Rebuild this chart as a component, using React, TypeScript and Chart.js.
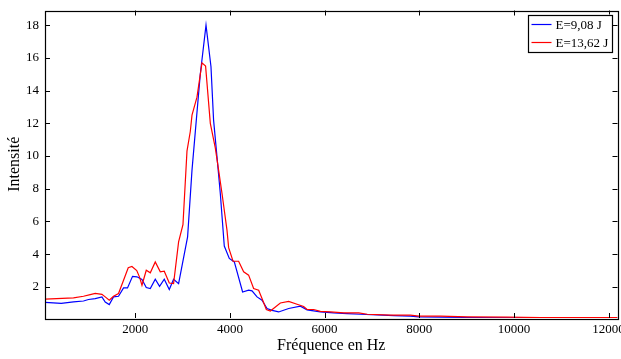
import React, { useEffect, useRef } from "react";
import { Chart, registerables } from "chart.js";

Chart.register(...registerables);

// Frequencies (Hz) and intensities
const freqA = [97, 436, 696, 907, 1013, 1154, 1296, 1366, 1451, 1541, 1647, 1753, 1837, 1943, 2036, 2142, 2233, 2318, 2423, 2514, 2613, 2719, 2810, 2916, 3106, 3199, 3290, 3374, 3495, 3600, 3655, 3727, 3797, 3881, 3987, 4093, 4268, 4395, 4467, 4573, 4678, 4784, 4890, 5029, 5241, 5488, 5630, 5911, 6192, 6475, 6757, 7110, 7461, 7813, 7989, 9145, 10562, 12190];
const valA = [1.05, 1.0, 1.08, 1.14, 1.23, 1.29, 1.39, 1.08, 0.92, 1.39, 1.43, 1.94, 1.94, 2.65, 2.62, 2.45, 1.96, 1.9, 2.47, 2.04, 2.47, 1.84, 2.47, 2.2, 5.06, 9.14, 12.2, 15.0, 18.0, 15.46, 12.2, 9.95, 7.71, 4.5, 3.74, 3.53, 1.69, 1.8, 1.76, 1.39, 1.19, 0.68, 0.57, 0.47, 0.68, 0.82, 0.6, 0.47, 0.41, 0.37, 0.33, 0.29, 0.25, 0.21, 0.17, 0.13, 0.11, 0.11];

const freqB = [97, 696, 907, 1049, 1154, 1296, 1366, 1451, 1541, 1647, 1753, 1852, 1930, 2032, 2091, 2142, 2233, 2318, 2423, 2529, 2613, 2719, 2810, 2916, 3008, 3093, 3163, 3199, 3304, 3410, 3486, 3586, 3691, 3761, 3833, 3938, 3973, 4066, 4184, 4290, 4395, 4501, 4607, 4678, 4769, 4854, 5065, 5241, 5418, 5558, 5630, 5770, 5911, 6123, 6404, 6721, 6899, 7391, 7813, 7989, 8448, 9012, 9858, 10562, 12190];
const valB = [1.25, 1.33, 1.43, 1.53, 1.6, 1.55, 1.39, 1.19, 1.43, 1.6, 2.41, 3.17, 3.25, 3.0, 2.6, 2.1, 3.02, 2.86, 3.53, 2.92, 2.96, 2.24, 2.2, 4.75, 5.8, 10.3, 11.5, 12.5, 13.6, 15.7, 15.5, 12.0, 10.5, 9.14, 7.71, 5.47, 4.4, 3.57, 3.57, 2.92, 2.72, 1.9, 1.8, 1.29, 0.62, 0.53, 1.02, 1.12, 0.94, 0.8, 0.62, 0.62, 0.51, 0.47, 0.41, 0.41, 0.33, 0.27, 0.27, 0.21, 0.21, 0.17, 0.15, 0.13, 0.13];

const labelA = "E=9,08 J";
const labelB = "E=13,62 J";
const xTicks = [2000, 4000, 6000, 8000, 10000, 12000];
const yTicks = [2, 4, 6, 8, 10, 12, 14, 16, 18];

const FONT = "'Liberation Serif', 'Times New Roman', serif";

const framePlugin = {
  id: "frameTicks",
  afterDatasetsDraw(chart: any) {
    const { ctx, chartArea: a, scales } = chart;
    const L = 5;
    ctx.save();
    ctx.strokeStyle = "#000";
    ctx.lineWidth = 1;
    ctx.beginPath();
    for (const v of xTicks) {
      const px = Math.round(scales.x.getPixelForValue(v)) + 0.5;
      ctx.moveTo(px, a.bottom);
      ctx.lineTo(px, a.bottom - L);
      ctx.moveTo(px, a.top);
      ctx.lineTo(px, a.top + L);
    }
    for (const v of yTicks) {
      const py = Math.round(scales.y.getPixelForValue(v)) + 0.5;
      ctx.moveTo(a.left, py);
      ctx.lineTo(a.left + L, py);
      ctx.moveTo(a.right, py);
      ctx.lineTo(a.right - L, py);
    }
    ctx.stroke();
    ctx.lineWidth = 1.2;
    ctx.strokeRect(Math.round(a.left) + 0.5, Math.round(a.top) + 0.5, Math.round(a.right - a.left), Math.round(a.bottom - a.top));
    ctx.restore();
  },
  afterDraw(chart: any) {
    const { ctx, chartArea: a } = chart;
    const bx = a.right - 90;
    const by = a.top + 4;
    const bw = 84;
    const bh = 37;
    ctx.save();
    ctx.fillStyle = "#fff";
    ctx.fillRect(bx, by, bw, bh);
    ctx.strokeStyle = "#000";
    ctx.lineWidth = 1.2;
    ctx.strokeRect(Math.round(bx) + 0.5, Math.round(by) + 0.5, bw, bh);
    ctx.font = "13px " + FONT;
    ctx.textBaseline = "middle";
    ctx.textAlign = "left";
    const ds = chart.data.datasets;
    const order = [0, 1];
    order.forEach((i, k) => {
      const y = by + 10 + k * 18;
      ctx.strokeStyle = ds[i].borderColor;
      ctx.lineWidth = 1.2;
      ctx.beginPath();
      ctx.moveTo(bx + 4, y);
      ctx.lineTo(bx + 24, y);
      ctx.stroke();
      ctx.fillStyle = "#000";
      ctx.fillText(ds[i].label, bx + 28, y + 1);
    });
    ctx.restore();
  },
};

export default function App() {
  const ref = useRef<HTMLCanvasElement | null>(null);
  useEffect(() => {
    if (!ref.current) return;
    const chart = new Chart(ref.current, {
      type: "line",
      data: {
        datasets: [
          {
            label: labelA,
            data: freqA.map((f, i) => ({ x: f, y: valA[i] })),
            borderColor: "#0000ff",
            borderWidth: 1.2,
            pointRadius: 0,
            tension: 0,
            order: 1,
          },
          {
            label: labelB,
            data: freqB.map((f, i) => ({ x: f, y: valB[i] })),
            borderColor: "#ff0000",
            borderWidth: 1.2,
            pointRadius: 0,
            tension: 0,
            order: 0,
          },
        ],
      },
      options: {
        animation: false,
        responsive: false,
        layout: { padding: { top: 10.5, right: 3.5, left: 0, bottom: 0 } },
        plugins: { legend: { display: false }, tooltip: { enabled: false } },
        scales: {
          x: {
            type: "linear",
            min: 93.75,
            max: 12187.5,
            grid: { display: false, drawTicks: false },
            border: { display: false },
            afterBuildTicks: (s: any) => {
              s.ticks = xTicks.map((v) => ({ value: v }));
            },
            afterFit: (s: any) => {
              s.height = 41;
              s.paddingLeft = 0;
              s.paddingRight = 0;
            },
            ticks: {
              color: "#000",
              font: { family: FONT, size: 13 },
              padding: 4,
              maxRotation: 0,
              autoSkip: false,
              callback: (v: any) => String(v),
            },
            title: {
              display: true,
              text: "Fréquence en Hz",
              color: "#000",
              font: { family: FONT, size: 16 },
              padding: { top: 0, bottom: 4 },
            },
          },
          y: {
            type: "linear",
            min: 0.1,
            max: 18.9,
            grid: { display: false, drawTicks: false },
            border: { display: false },
            afterBuildTicks: (s: any) => {
              s.ticks = yTicks.map((v) => ({ value: v }));
            },
            afterFit: (s: any) => {
              s.width = 45;
              s.paddingTop = 0;
              s.paddingBottom = 0;
            },
            ticks: {
              color: "#000",
              font: { family: FONT, size: 13 },
              padding: 6,
              autoSkip: false,
              callback: (v: any) => String(v),
            },
            title: {
              display: true,
              text: "Intensité",
              color: "#000",
              font: { family: FONT, size: 16 },
              padding: { top: 5, bottom: 0 },
            },
          },
        },
      },
      plugins: [framePlugin],
    });
    return () => chart.destroy();
  }, []);
  return (
    <div style={{ position: "fixed", left: 0, top: 0, width: 621, height: 359, background: "#fff" }}>
      <canvas ref={ref} width={621} height={359} />
    </div>
  );
}
